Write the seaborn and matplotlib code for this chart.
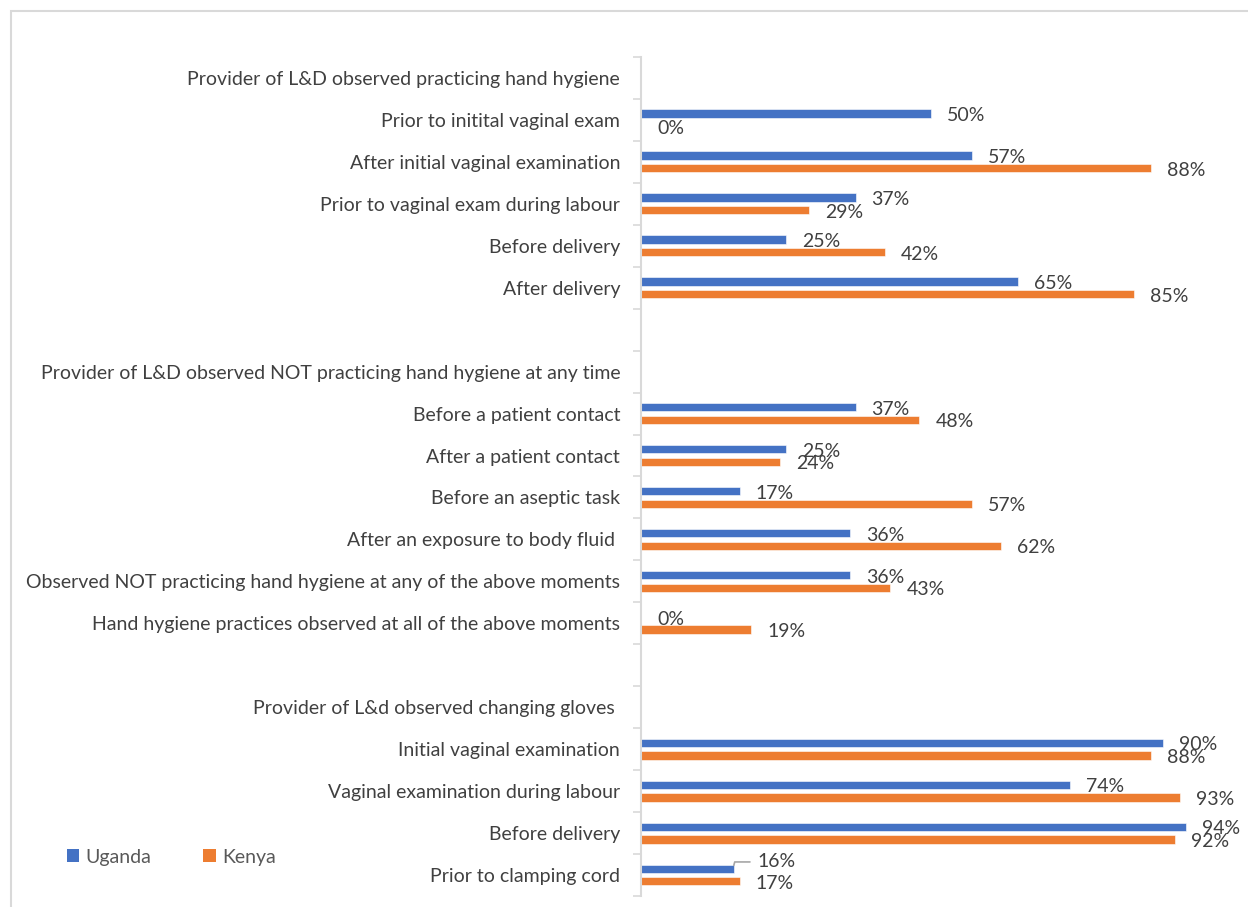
import numpy as np
import pandas as pd
import matplotlib
matplotlib.use("Agg")
import matplotlib.pyplot as plt
from matplotlib.patches import Patch, Rectangle
import seaborn as sns

# Row labels, top to bottom (section headers and spacer rows carry no bars)
row_labels = [
    "Provider of L&D observed practicing hand hygiene",
    "Prior to initital vaginal exam",
    "After initial vaginal examination",
    "Prior to vaginal exam during labour",
    "Before delivery",
    "After delivery",
    "",
    "Provider of L&D observed NOT practicing hand hygiene at any time",
    "Before a patient contact",
    "After a patient contact",
    "Before an aseptic task",
    "After an exposure to body fluid ",
    "Observed NOT practicing hand hygiene at any of the above moments",
    "Hand hygiene practices observed at all of the above moments",
    "",
    "Provider of L&d observed changing gloves ",
    "Initial vaginal examination",
    "Vaginal examination during labour",
    "Before delivery",
    "Prior to clamping cord",
]

countries = ["Uganda", "Kenya"]
uganda = [np.nan, 50, 57, 37, 25, 65, np.nan, np.nan, 37, 25, 17, 36, 36, 0,
          np.nan, np.nan, 90, 74, 94, 16]
kenya = [np.nan, 0, 88, 29, 42, 85, np.nan, np.nan, 48, 24, 57, 62, 43, 19,
         np.nan, np.nan, 88, 93, 92, 17]

colors = {"Uganda": "#4472C4", "Kenya": "#ED7D31"}
text_color = "#404040"
grid_color = "#D9D9D9"
fs = 14

n_rows = len(row_labels)
rows = list(range(n_rows))
df = pd.DataFrame({
    "row": rows * 2,
    "country": ["Uganda"] * n_rows + ["Kenya"] * n_rows,
    "value": uganda + kenya,
})

sns.set_theme(style="white")
plt.rcParams["font.family"] = ["Lato", "DejaVu Sans"]
plt.rcParams["font.size"] = fs

fig = plt.figure(figsize=(12.48, 9.07), dpi=100)
ax = fig.add_axes([641 / 1248, 1 - 896 / 907, 580 / 1248, 839 / 907])

sns.barplot(
    data=df, x="value", y="row", hue="country", orient="h",
    order=rows, hue_order=countries, palette=colors, saturation=1,
    width=0.6, gap=0.34, dodge=True, legend=False,
    edgecolor="white", linewidth=0.4, errorbar=None, ax=ax,
)

ax.set_xlim(0, 100)
ax.set_ylim(n_rows - 0.5, -0.5)
ax.set_xlabel("")
ax.set_ylabel("")
ax.xaxis.set_visible(False)

# Boundary tick marks between rows, labels centred on each row
ax.set_yticks(np.arange(-0.5, n_rows, 1.0))
ax.set_yticklabels([])
ax.tick_params(axis="y", which="major", length=6, width=1.2, color=grid_color,
               direction="out", left=True)
ax.set_yticks(rows, labels=row_labels, minor=True)
ax.tick_params(axis="y", which="minor", length=0, pad=15,
               labelsize=fs, labelcolor=text_color)

for side in ["top", "right", "bottom"]:
    ax.spines[side].set_visible(False)
ax.spines["left"].set_color(grid_color)
ax.spines["left"].set_linewidth(1.5)

# Value labels at the end of each bar
for container in ax.containers:
    texts = ax.bar_label(
        container, padding=11.5, fontsize=fs, color=text_color,
        fmt=lambda v: "" if np.isnan(v) else f"{v:.0f}%",
    )
    for bar, txt in zip(container.patches, texts):
        txt.set_y(-1.5)
        w = bar.get_width()
        if txt.get_text() == "16%" and bar.get_facecolor()[2] > 0.6:
            txt.set_visible(False)
            ax.annotate(
                "16%", xy=(w, bar.get_y() + 0.02),
                xytext=(17, 2.5), textcoords="offset points",
                ha="left", va="center", fontsize=fs, color=text_color,
                arrowprops=dict(arrowstyle="-", color="#A6A6A6", lw=1.2,
                                shrinkA=3, shrinkB=0,
                                connectionstyle="angle,angleA=0,angleB=75,rad=0"),
            )

# Legend
handles = [Patch(facecolor=colors[c], edgecolor="none", label=c) for c in countries]
fig.legend(
    handles=handles, loc="center left", bbox_to_anchor=(49 / 1248, 1 - 857 / 907),
    ncol=2, frameon=False, fontsize=fs, labelcolor="#595959",
    handlelength=0.65, handleheight=0.65, handletextpad=0.3, columnspacing=2.7,
)

# Chart area outline
fig.patches.append(Rectangle((10.5 / 1248, -0.1), 1.2, 1 - 10.5 / 907 + 0.1,
                             transform=fig.transFigure, fill=False,
                             edgecolor=grid_color, linewidth=1.5))

fig.savefig("out.png", dpi=100, facecolor="white")
